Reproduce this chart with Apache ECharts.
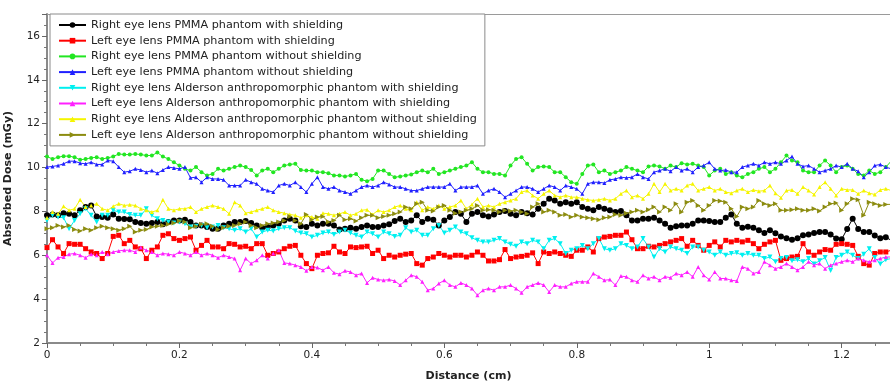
<!DOCTYPE html>
<html>
<head>
<meta charset="utf-8">
<title>Absorbed dose vs distance</title>
<script src="https://cdn.jsdelivr.net/npm/echarts@6/dist/echarts.min.js"></script>
<style>
  html, body { margin: 0; padding: 0; background: #fff; }
  #chart { width: 890px; height: 383px; }
</style>
</head>
<body>
<div id="chart"></div>
<script>
// sampling grid: one reading every 1/120 cm
const STEP = 1 / 120;
const POINTS = 154;
const distance = Array.from({ length: POINTS }, (_, i) => i * STEP);

const seriesNames = [
  "Right eye lens PMMA phantom with shielding",
  "Left eye lens PMMA phantom with shielding",
  "Right eye lens PMMA phantom without shielding",
  "Left eye lens PMMA phantom without shielding",
  "Right eye lens Alderson anthropomorphic phantom with shielding",
  "Left eye lens Alderson anthropomorphic phantom with shielding",
  "Right eye lens Alderson anthropomorphic phantom without shielding",
  "Left eye lens Alderson anthropomorphic phantom without shielding",
];

const rightPmmaShield = [
  7.82, 7.86, 7.82, 7.92, 7.89, 7.82, 8.05, 8.2, 8.27, 7.77, 7.74, 7.71, 7.86, 7.67, 7.65, 7.64, 7.52, 7.47, 7.44, 7.47, 7.52, 7.41, 7.52, 7.59, 7.59, 7.62, 7.52, 7.36, 7.36, 7.29, 7.21,
  7.21, 7.36, 7.44, 7.52, 7.52, 7.56, 7.47, 7.36, 7.26, 7.29, 7.36, 7.44, 7.59, 7.67, 7.59, 7.32, 7.29, 7.44, 7.36, 7.44, 7.44, 7.36, 7.17, 7.21, 7.26, 7.21, 7.29, 7.36, 7.29, 7.29, 7.36,
  7.41, 7.56, 7.67, 7.52, 7.59, 7.82, 7.52, 7.67, 7.62, 7.36, 7.59, 7.74, 7.97, 7.89, 7.52, 7.89, 7.97, 7.82, 7.77, 7.86, 7.97, 8.02, 7.89, 7.82, 7.97, 7.92, 7.86, 8.12, 8.35, 8.58,
  8.5, 8.35, 8.42, 8.35, 8.42, 8.2, 8.12, 8.05, 8.2, 8.12, 8.05, 7.97, 8.02, 7.82, 7.59, 7.59, 7.67, 7.67, 7.71, 7.59, 7.44, 7.26, 7.32, 7.36, 7.36, 7.44, 7.59, 7.59, 7.56, 7.52, 7.52,
  7.71, 7.86, 7.44, 7.26, 7.3, 7.26, 7.14, 7.02, 7.14, 7.0, 6.85, 6.78, 6.71, 6.78, 6.91, 6.95, 7.02, 7.06, 7.06, 6.95, 6.76, 6.73, 7.2, 7.67, 7.2, 7.06, 7.06, 6.9, 6.78, 6.82, 6.68,
];

const leftPmmaShield = [
  6.35, 6.71, 6.38, 6.08, 6.53, 6.5, 6.5, 6.3, 6.15, 6.08, 5.85, 6.08, 6.86, 6.91, 6.53, 6.68, 6.38, 6.3, 5.85, 6.23, 6.38, 6.91, 6.98, 6.76, 6.68, 6.76, 6.83, 6.23, 6.45, 6.68, 6.38,
  6.38, 6.3, 6.53, 6.5, 6.38, 6.41, 6.3, 6.53, 6.53, 6.0, 6.08, 6.15, 6.3, 6.41, 6.45, 6.0, 5.62, 5.39, 6.0, 6.08, 6.11, 6.41, 6.15, 6.08, 6.38, 6.35, 6.38, 6.41, 6.08, 6.23, 5.85,
  6.0, 5.92, 6.0, 6.05, 6.08, 5.62, 5.55, 5.85, 5.92, 6.08, 6.0, 5.92, 6.0, 6.0, 5.92, 6.0, 6.15, 6.0, 5.74, 5.74, 5.8, 6.26, 5.85, 5.92, 5.95, 6.0, 6.11, 5.62, 6.15, 6.08,
  6.15, 6.08, 6.0, 5.95, 6.23, 6.23, 6.38, 6.15, 6.76, 6.83, 6.86, 6.91, 6.91, 7.06, 6.71, 6.3, 6.3, 6.41, 6.38, 6.45, 6.53, 6.61, 6.68, 6.76, 6.41, 6.68, 6.45, 6.23, 6.45, 6.61, 6.38,
  6.68, 6.61, 6.68, 6.61, 6.68, 6.53, 6.3, 6.5, 6.61, 6.68, 5.77, 5.85, 5.92, 5.95, 6.53, 6.15, 6.0, 6.15, 6.26, 6.23, 6.5, 6.53, 6.5, 6.45, 5.95, 5.62, 5.55, 6.08, 6.15, 6.15, 6.23,
];

const rightPmmaNoShield = [
  10.5, 10.39, 10.47, 10.52, 10.52, 10.47, 10.35, 10.39, 10.44, 10.47, 10.39, 10.44, 10.5, 10.62, 10.59, 10.59, 10.62, 10.59, 10.55, 10.55, 10.68, 10.5, 10.39, 10.24, 10.09, 9.94, 9.86, 10.02, 9.79, 9.64, 9.71,
  9.94, 9.86, 9.94, 10.02, 10.09, 10.02, 9.89, 9.64, 9.86, 9.94, 9.79, 9.94, 10.09, 10.14, 10.17, 9.89, 9.86, 9.86, 9.79, 9.79, 9.74, 9.64, 9.64, 9.59, 9.64, 9.71, 9.44, 9.38, 9.48, 9.86, 9.86,
  9.71, 9.56, 9.59, 9.64, 9.68, 9.79, 9.86, 9.79, 9.94, 9.71, 9.79, 9.86, 9.94, 10.02, 10.09, 10.24, 9.94, 9.79, 9.79, 9.71, 9.71, 9.64, 10.09, 10.39, 10.47, 10.17, 9.86, 10.02, 10.05, 10.02,
  9.79, 9.79, 9.56, 9.33, 9.26, 9.71, 10.09, 10.14, 9.79, 9.86, 9.71, 9.79, 9.86, 10.02, 9.94, 9.86, 9.79, 10.05, 10.09, 10.05, 9.94, 10.09, 10.02, 10.2, 10.14, 10.17, 10.09, 10.02, 9.64, 9.86, 9.94,
  9.71, 9.79, 9.64, 9.56, 9.71, 9.79, 9.94, 10.02, 9.79, 9.94, 10.24, 10.55, 10.32, 10.24, 9.86, 9.79, 9.79, 10.09, 10.32, 10.09, 9.79, 10.02, 10.09, 9.94, 9.71, 9.64, 9.86, 9.71, 9.79, 10.02, 10.3,
];

const leftPmmaNoShield = [
  10.02, 10.05, 10.09, 10.17, 10.29, 10.29, 10.2, 10.17, 10.24, 10.14, 10.14, 10.32, 10.29, 10.02, 9.79, 9.83, 9.94, 9.89, 9.79, 9.86, 9.74, 9.89, 10.02, 9.98, 9.94, 10.02, 9.53, 9.56, 9.33, 9.56, 9.48,
  9.48, 9.44, 9.18, 9.18, 9.18, 9.44, 9.33, 9.26, 9.03, 8.95, 8.88, 9.18, 9.26, 9.18, 9.33, 9.11, 8.88, 9.26, 9.56, 9.11, 9.03, 9.11, 8.95, 8.88, 8.8, 8.95, 9.11, 9.18, 9.11, 9.18, 9.33,
  9.23, 9.11, 9.11, 9.03, 8.95, 8.95, 9.03, 9.11, 9.11, 9.11, 9.11, 9.26, 8.95, 9.11, 9.11, 9.11, 9.18, 8.8, 8.95, 9.03, 8.88, 8.65, 8.8, 8.95, 9.11, 9.11, 9.03, 8.88, 9.03, 9.18,
  9.11, 8.95, 9.18, 9.11, 9.03, 8.8, 9.26, 9.33, 9.33, 9.29, 9.44, 9.48, 9.56, 9.53, 9.56, 9.71, 9.56, 9.48, 9.79, 9.86, 9.94, 9.83, 10.02, 9.86, 9.94, 9.79, 10.02, 10.09, 10.24, 9.94, 9.86,
  9.89, 9.79, 9.79, 10.02, 10.09, 10.17, 10.09, 10.24, 10.17, 10.24, 10.17, 10.32, 10.5, 10.17, 10.05, 10.09, 9.94, 9.79, 9.86, 9.94, 10.09, 10.02, 10.17, 9.94, 9.83, 9.56, 9.79, 10.09, 10.14, 10.02, 9.94,
];

const rightAldersonShield = [
  7.59, 7.82, 7.74, 7.71, 7.21, 7.59, 7.89, 8.12, 7.82, 7.52, 7.82, 7.82, 8.05, 7.97, 7.97, 7.86, 7.82, 7.82, 8.12, 7.82, 7.67, 7.59, 7.52, 7.47, 7.52, 7.44, 7.29, 7.32, 7.36, 7.26, 7.29,
  7.36, 7.26, 7.21, 7.14, 7.21, 7.06, 7.21, 6.83, 7.06, 7.14, 7.11, 7.21, 7.26, 7.26, 7.11, 7.02, 6.98, 6.83, 6.91, 7.02, 7.06, 6.95, 7.06, 7.14, 7.02, 6.91, 6.83, 7.06, 6.98, 6.83, 7.06,
  6.98, 6.86, 6.91, 7.26, 7.06, 7.14, 6.91, 6.91, 7.21, 7.36, 7.02, 7.14, 7.29, 7.06, 6.98, 6.8, 6.68, 6.61, 6.61, 6.68, 6.76, 6.61, 6.5, 6.41, 6.61, 6.53, 6.68, 6.61, 6.3, 6.68,
  6.76, 6.53, 6.08, 6.23, 6.3, 6.45, 6.3, 6.53, 6.76, 6.3, 6.23, 6.3, 6.53, 6.45, 6.3, 6.38, 6.76, 6.38, 5.92, 6.3, 6.15, 6.38, 6.3, 6.23, 6.08, 6.38, 6.38, 6.23, 6.15, 6.0, 6.15,
  6.0, 6.08, 6.11, 6.0, 6.08, 6.0, 6.0, 5.85, 5.92, 5.7, 5.85, 5.9, 5.75, 5.8, 5.7, 5.85, 5.6, 5.75, 5.9, 5.3, 5.9, 6.0, 6.15, 6.0, 5.85, 6.05, 6.3, 5.9, 5.6, 5.8, 5.85,
];

const leftAldersonShield = [
  6.0, 5.65, 5.89, 5.92, 6.05, 6.08, 6.0, 5.89, 6.05, 6.0, 6.15, 6.05, 6.15, 6.2, 6.23, 6.23, 6.15, 6.35, 6.23, 6.15, 6.0, 6.08, 6.05, 6.0, 6.15, 6.08, 6.0, 6.15, 6.0, 6.08, 6.0,
  5.89, 6.0, 5.92, 5.85, 5.32, 5.85, 5.62, 5.77, 6.0, 5.85, 6.08, 6.23, 5.65, 5.62, 5.55, 5.47, 5.29, 5.47, 5.44, 5.32, 5.47, 5.2, 5.14, 5.29, 5.24, 5.09, 5.17, 4.74, 4.98, 4.89, 4.86,
  4.89, 4.83, 4.64, 4.86, 5.09, 5.02, 4.79, 4.41, 4.48, 4.71, 4.86, 4.64, 4.56, 4.74, 4.64, 4.48, 4.18, 4.41, 4.48, 4.41, 4.56, 4.56, 4.64, 4.48, 4.29, 4.56, 4.64, 4.74, 4.64, 4.33,
  4.64, 4.56, 4.56, 4.71, 4.79, 4.79, 4.79, 5.17, 5.02, 4.86, 4.89, 4.64, 5.05, 5.02, 4.86, 4.79, 5.09, 4.94, 5.02, 4.86, 5.02, 4.98, 5.17, 5.09, 5.24, 5.02, 5.47, 5.09, 4.89, 5.24, 4.94,
  4.94, 4.86, 4.83, 5.47, 5.39, 5.17, 5.24, 5.7, 5.55, 5.39, 5.47, 5.62, 5.47, 5.32, 5.47, 5.7, 5.55, 5.62, 5.39, 5.55, 5.62, 5.7, 5.77, 5.7, 5.85, 5.77, 5.7, 5.77, 5.85, 5.92, 5.92,
];

const rightAldersonNoShield = [
  7.71, 7.97, 7.89, 8.23, 8.05, 8.12, 8.53, 8.2, 8.27, 8.35, 8.12, 8.05, 8.23, 8.35, 8.27, 8.3, 8.27, 8.12, 8.05, 7.97, 8.05, 8.53, 8.12, 8.05, 8.12, 8.12, 8.2, 7.97, 8.12, 8.2, 8.27,
  8.2, 8.12, 7.89, 8.42, 8.27, 7.92, 7.97, 8.05, 8.12, 8.2, 8.05, 7.97, 7.92, 7.86, 7.82, 7.71, 7.82, 7.74, 7.67, 7.92, 7.89, 7.82, 7.89, 7.97, 7.82, 7.89, 8.05, 8.08, 7.86, 8.05, 7.97,
  8.05, 8.2, 8.27, 8.12, 8.05, 8.42, 8.05, 8.2, 8.12, 8.27, 8.12, 8.2, 8.27, 8.5, 8.12, 8.32, 8.58, 8.2, 8.27, 8.2, 8.35, 8.42, 8.5, 8.58, 8.88, 8.95, 8.73, 8.58, 8.8, 8.95,
  8.73, 8.65, 8.73, 8.65, 8.65, 8.58, 8.53, 8.5, 8.53, 8.58, 8.5, 8.58, 8.8, 8.95, 8.65, 8.73, 8.58, 8.8, 9.26, 8.88, 9.26, 8.95, 9.03, 8.95, 9.18, 9.26, 8.95, 9.03, 9.11, 8.95, 9.03,
  8.88, 8.83, 8.95, 9.03, 8.88, 8.98, 8.92, 8.95, 9.18, 8.83, 8.62, 8.95, 8.98, 8.8, 9.11, 8.95, 8.77, 9.11, 9.33, 9.03, 8.73, 9.03, 8.98, 8.98, 8.8, 8.95, 8.83, 8.77, 8.98, 9.03, 8.95,
];

const leftAldersonNoShield = [
  7.21, 7.26, 7.36, 7.29, 7.36, 7.17, 7.11, 7.21, 7.14, 7.26, 7.32, 7.26, 7.21, 7.14, 7.21, 7.32, 7.06, 7.14, 7.17, 7.29, 7.32, 7.36, 7.41, 7.47, 7.56, 7.52, 7.26, 7.32, 7.41, 7.44, 7.32,
  7.17, 7.26, 7.32, 7.36, 7.44, 7.52, 7.36, 7.26, 7.36, 7.44, 7.47, 7.52, 7.59, 7.77, 7.59, 7.44, 7.86, 7.62, 7.74, 7.77, 7.52, 7.59, 7.82, 7.62, 7.67, 7.56, 7.71, 7.82, 7.82, 7.71, 7.77,
  7.82, 7.89, 7.97, 8.2, 8.12, 8.35, 8.42, 8.05, 8.02, 8.2, 8.27, 8.05, 7.92, 7.97, 8.05, 8.12, 8.27, 8.05, 8.08, 8.05, 7.97, 8.05, 8.02, 8.05, 7.97, 7.89, 8.2, 8.35, 7.97, 8.05,
  7.97, 7.82, 7.86, 7.74, 7.82, 7.74, 7.71, 7.67, 7.62, 7.71, 7.74, 7.86, 7.82, 7.92, 7.97, 8.05, 7.97, 8.08, 8.2, 7.97, 8.2, 8.05, 8.35, 7.97, 8.42, 8.5, 8.27, 8.05, 8.27, 8.5, 8.47,
  8.42, 8.12, 7.77, 8.2, 8.12, 8.2, 8.5, 8.35, 8.27, 8.35, 8.05, 8.05, 8.08, 8.12, 8.05, 8.05, 8.12, 8.02, 8.2, 8.35, 8.38, 8.05, 8.35, 8.58, 8.53, 7.82, 8.42, 8.35, 8.27, 8.32, 8.32,
];

const seriesValues = [
  rightPmmaShield, leftPmmaShield, rightPmmaNoShield, leftPmmaNoShield,
  rightAldersonShield, leftAldersonShield, rightAldersonNoShield, leftAldersonNoShield,
];

const seriesColors = ["#000000", "#ff0000", "#22e622", "#2020ff", "#00f0f0", "#ff20ff", "#f5f500", "#8c8c10"];
const seriesSymbols = ["circle", "rect", "circle", "triangle", "triangle", "triangle", "triangle", "triangle"];
const symbolSizes = [6, 5, 4, 4, 5, 4, 4, 5];
const symbolRotates = [0, 0, 0, 0, 180, 0, 0, -90];

const FONT = "DejaVu Sans";

const chart = echarts.init(document.getElementById("chart"), null, { renderer: "canvas" });

chart.setOption({
  animation: false,
  backgroundColor: "#ffffff",
  textStyle: { fontFamily: FONT },
  grid: { left: 47, right: 0, top: 14, bottom: 40, containLabel: false, outerBoundsMode: "none" },
  legend: {
    orient: "vertical",
    left: 50,
    top: 14,
    itemWidth: 27,
    itemHeight: 7,
    itemGap: 3.7,
    padding: [5, 8, 5, 8],
    backgroundColor: "#ffffff",
    borderColor: "#8a8a8a",
    borderWidth: 1,
    borderRadius: 0,
    textStyle: { fontFamily: FONT, fontSize: 11.2, color: "#222", lineHeight: 12 },
    data: seriesNames,
  },
  xAxis: [
    {
      type: "value",
      min: 0,
      max: 1.273,
      interval: 0.2,
      name: "Distance (cm)",
      nameLocation: "middle",
      nameGap: 28,
      nameTextStyle: { fontFamily: FONT, fontSize: 11, fontWeight: "bold", color: "#222" },
      axisLine: { show: true, lineStyle: { color: "#8a8a8a", width: 2 } },
      axisTick: { show: true, length: 5, lineStyle: { color: "#666" } },
      minorTick: { show: true, splitNumber: 4, length: 3, lineStyle: { color: "#777" } },
      axisLabel: {
        fontFamily: FONT, fontSize: 10.5, color: "#222", margin: 7,
        showMaxLabel: false,
        formatter: (v) => String(Math.round(v * 10) / 10),
      },
      splitLine: { show: false },
    },
    {
      type: "value",
      position: "top",
      min: 0,
      max: 1.273,
      axisLine: { show: true, onZero: false, lineStyle: { color: "#9a9a9a", width: 1 } },
      axisTick: { show: false },
      axisLabel: { show: false },
      splitLine: { show: false },
    },
  ],
  yAxis: {
    type: "value",
    min: 2,
    max: 17,
    interval: 2,
    name: "Absorbed Dose (mGy)",
    nameLocation: "middle",
    nameGap: 33,
    nameTextStyle: { fontFamily: FONT, fontSize: 11, fontWeight: "bold", color: "#222" },
    axisLine: { show: true, lineStyle: { color: "#8a8a8a", width: 2 } },
    axisTick: { show: true, length: 5, lineStyle: { color: "#666" } },
    minorTick: { show: true, splitNumber: 4, length: 3, lineStyle: { color: "#777" } },
    axisLabel: {
      fontFamily: FONT, fontSize: 10.5, color: "#222", margin: 7,
      showMaxLabel: false,
    },
    splitLine: { show: false },
  },
  series: seriesNames.map((name, k) => ({
    name,
    type: "line",
    xAxisIndex: 0,
    data: seriesValues[k].map((v, i) => [distance[i], v]),
    symbol: seriesSymbols[k],
    symbolSize: symbolSizes[k],
    symbolRotate: symbolRotates[k],
    showAllSymbol: true,
    color: seriesColors[k],
    lineStyle: { width: 1, color: seriesColors[k] },
    itemStyle: { color: seriesColors[k] },
    clip: true,
  })),
});
</script>
</body>
</html>
